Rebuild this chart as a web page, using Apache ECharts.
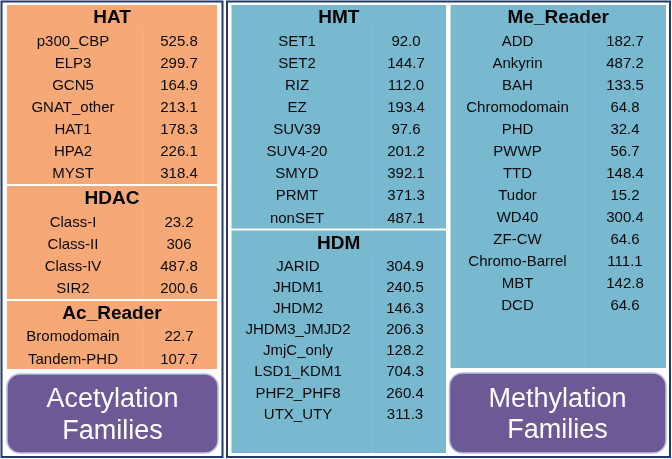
<!DOCTYPE html>
<html>
<head>
<meta charset="utf-8">
<script src="https://cdn.jsdelivr.net/npm/echarts@6/dist/echarts.min.js"></script>
<style>
html,body{margin:0;padding:0;background:#fff;}
#chart{width:672px;height:459px;}
</style>
</head>
<body>
<div id="chart"></div>
<script>
// ---- data ----
const hatNames = ['p300_CBP','ELP3','GCN5','GNAT_other','HAT1','HPA2','MYST'];
const hatValues = ['525.8','299.7','164.9','213.1','178.3','226.1','318.4'];
const hdacNames = ['Class-I','Class-II','Class-IV','SIR2'];
const hdacValues = ['23.2','306','487.8','200.6'];
const acReaderNames = ['Bromodomain','Tandem-PHD'];
const acReaderValues = ['22.7','107.7'];
const hmtNames = ['SET1','SET2','RIZ','EZ','SUV39','SUV4-20','SMYD','PRMT','nonSET'];
const hmtValues = ['92.0','144.7','112.0','193.4','97.6','201.2','392.1','371.3','487.1'];
const hdmNames = ['JARID','JHDM1','JHDM2','JHDM3_JMJD2','JmjC_only','LSD1_KDM1','PHF2_PHF8','UTX_UTY'];
const hdmValues = ['304.9','240.5','146.3','206.3','128.2','704.3','260.4','311.3'];
const meReaderNames = ['ADD','Ankyrin','BAH','Chromodomain','PHD','PWWP','TTD','Tudor','WD40','ZF-CW','Chromo-Barrel','MBT','DCD'];
const meReaderValues = ['182.7','487.2','133.5','64.8','32.4','56.7','148.4','15.2','300.4','64.6','111.1','142.8','64.6'];
const familyLabels = [['Acetylation','Families'],['Methylation','Families']];

// ---- layout / style ----
const ORANGE = '#F6A877';
const BLUE = '#79B9CF';
const PURPLE = '#6E5997';
const NAVY = '#243A6A';
const FONT = '"Liberation Sans", Arial, sans-serif';

const sections = [
  {title:'HAT', names:hatNames, values:hatValues, x0:7, x1:217, y0:5, y1:184, nameX:73, valX:179, sepX:143, titleY:17.5, rowY:41.8, step:22.05, fill:ORANGE},
  {title:'HDAC', names:hdacNames, values:hdacValues, x0:7, x1:217, y0:186, y1:299, nameX:73, valX:179, sepX:143, titleY:198.5, rowY:222.7, step:22.1, fill:ORANGE},
  {title:'Ac_Reader', names:acReaderNames, values:acReaderValues, x0:7, x1:217, y0:301, y1:369, nameX:73, valX:179, sepX:143, titleY:313.5, rowY:336.8, step:23.3, fill:ORANGE},
  {title:'HMT', names:hmtNames, values:hmtValues, x0:231.5, x1:446, y0:5, y1:228.5, nameX:297, valX:406, sepX:372, titleY:17.5, rowY:41.8, step:22.07, fill:BLUE},
  {title:'HDM', names:hdmNames, values:hdmValues, x0:231.5, x1:446, y0:230.5, y1:453, nameX:298, valX:405, sepX:372, titleY:243.5, rowY:266.8, step:21.1, fill:BLUE},
  {title:'Me_Reader', names:meReaderNames, values:meReaderValues, x0:450.5, x1:666, y0:5, y1:368, nameX:517.5, valX:625, sepX:585, titleY:17.5, rowY:41.8, step:22.0, fill:BLUE}
];
const frames = [
  {x0:1.5, x1:222.5, y0:1.5, y1:457},
  {x0:227, x1:670, y0:1.5, y1:457}
];
const familyBoxes = [
  {x0:7, x1:218, y0:374, y1:453, cx:112.5, ty:[400, 432]},
  {x0:449.5, x1:666, y0:373, y1:453, cx:557.5, ty:[400, 431]}
];

function rectFrom(api, b){
  const p0 = api.coord([b.x0, b.y0]), p1 = api.coord([b.x1, b.y1]);
  return {x:p0[0], y:p0[1], width:p1[0]-p0[0], height:p1[1]-p0[1]};
}

const rowData = [];
sections.forEach((s, si) => s.names.forEach((n, ri) => rowData.push([si, ri])));

const chart = echarts.init(document.getElementById('chart'), null, {renderer:'canvas'});
chart.setOption({
  animation:false,
  backgroundColor:'#ffffff',
  grid:{left:0, right:0, top:0, bottom:0},
  xAxis:{type:'value', min:0, max:672, show:false},
  yAxis:{type:'value', min:0, max:459, inverse:true, show:false},
  series:[
    { // panel frames
      type:'custom', clip:false, z:1,
      data:frames.map((f,i)=>[i]),
      renderItem:(params, api)=>{
        const f = frames[api.value(0)];
        return {type:'rect', shape:rectFrom(api, f), style:{fill:'#fff', stroke:NAVY, lineWidth:2}};
      }
    },
    { // section backgrounds + titles
      type:'custom', clip:false, z:2,
      data:sections.map((s,i)=>[i]),
      renderItem:(params, api)=>{
        const s = sections[api.value(0)];
        const r = rectFrom(api, s);
        const t = api.coord([(s.x0+s.x1)/2, s.titleY]);
        const a = api.coord([s.sepX, s.y0]), b = api.coord([s.sepX, s.y1]);
        return {type:'group', children:[
          {type:'rect', shape:r, style:{fill:s.fill}},
          {type:'line', shape:{x1:a[0], y1:a[1]+22, x2:b[0], y2:b[1]}, style:{stroke:'rgba(255,255,255,0.1)', lineWidth:1}},
          {type:'text', style:{text:s.title, x:t[0], y:t[1], align:'center', verticalAlign:'middle', font:'bold 19px '+FONT, fill:'#000'}}
        ]};
      }
    },
    { // rows
      type:'custom', clip:false, z:3,
      data:rowData,
      renderItem:(params, api)=>{
        const s = sections[api.value(0)], ri = api.value(1);
        const y = s.rowY + ri*s.step;
        const pn = api.coord([s.nameX, y]), pv = api.coord([s.valX, y]);
        return {type:'group', children:[
          {type:'text', style:{text:s.names[ri], x:pn[0], y:pn[1], align:'center', verticalAlign:'middle', font:'15px '+FONT, fill:'#0a0a0a'}},
          {type:'text', style:{text:s.values[ri], x:pv[0], y:pv[1], align:'center', verticalAlign:'middle', font:'15px '+FONT, fill:'#0a0a0a'}}
        ]};
      }
    },
    { // family boxes
      type:'custom', clip:false, z:4,
      data:familyBoxes.map((b,i)=>[i]),
      renderItem:(params, api)=>{
        const i = api.value(0), b = familyBoxes[i];
        const r = rectFrom(api, b);
        const lines = familyLabels[i];
        const kids = [{type:'rect', shape:Object.assign(r, {r:13}), style:{fill:PURPLE, stroke:'#b9bfe0', lineWidth:1.5}}];
        lines.forEach((txt, k)=>{
          const p = api.coord([b.cx, b.ty[k]]);
          kids.push({type:'text', style:{text:txt, x:p[0], y:p[1], align:'center', verticalAlign:'middle', font:'27px '+FONT, fill:'#ffffff'}});
        });
        return {type:'group', children:kids};
      }
    }
  ]
});
</script>
</body>
</html>
